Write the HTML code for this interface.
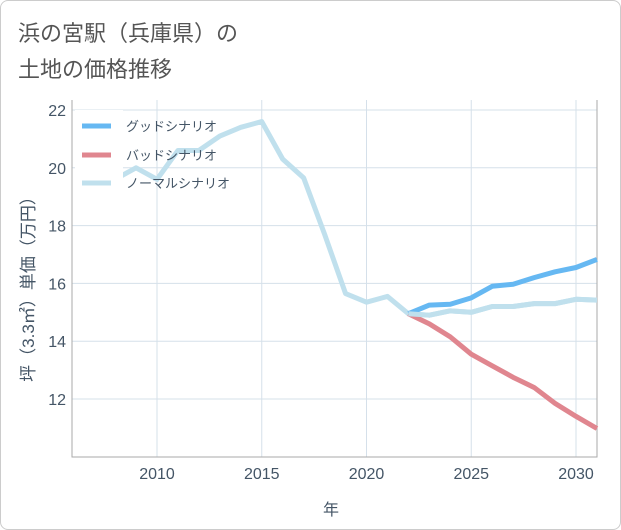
<!DOCTYPE html>
<html><head><meta charset="utf-8"><style>
body{margin:0;background:#fff;font-family:"Liberation Sans","Noto Sans CJK JP",sans-serif}
#card{position:absolute;left:0;top:0;width:619px;height:528px;border:1px solid #ccc;border-radius:8px;background:#fff}
</style></head><body>
<div id="card"></div>
<svg id="c" width="621" height="530" style="position:absolute;left:0;top:0" font-family="Liberation Sans, Noto Sans CJK JP, sans-serif">
<text x="18" y="41" font-size="22" fill="#555">浜の宮駅（兵庫県）の</text>
<text x="18" y="77" font-size="22" fill="#555">土地の価格推移</text>
<g id="grid"></g><g id="lines"></g>
<text x="331" y="515" font-size="16" fill="#456" text-anchor="middle">年</text>
<text transform="translate(34,285) rotate(-90)" font-size="17" fill="#456" text-anchor="middle">坪（3.3㎡）単価（万円）</text>
<g id="legend"></g>
</svg>
<script>
const years=[2008,2009,2010,2011,2012,2013,2014,2015,2016,2017,2018,2019,2020,2021,2022,2023,2024,2025,2026,2027,2028,2029,2030,2031];
const normal=[19.6,20.0,19.6,20.6,20.6,21.1,21.4,21.6,20.3,19.65,17.7,15.65,15.35,15.55,14.95,14.9,15.05,15.0,15.2,15.2,15.3,15.3,15.45,15.42];
const fyears=[2022,2023,2024,2025,2026,2027,2028,2029,2030,2031];
const good=[14.95,15.25,15.28,15.5,15.9,15.97,16.2,16.4,16.55,16.83];
const bad=[14.95,14.6,14.15,13.55,13.15,12.75,12.4,11.85,11.4,10.98];
const xticks=[2010,2015,2020,2025,2030];
const yticks=[12,14,16,18,20,22];
const L=72,R=597,T=100,B=457;
const x=y=>157+(y-2010)*20.95;
const yy=v=>110+(22-v)*28.9;
const NS="http://www.w3.org/2000/svg";
function mk(t,a,p){const e=document.createElementNS(NS,t);for(const k in a)e.setAttribute(k,a[k]);p.appendChild(e);return e;}
const g=document.getElementById('grid');
xticks.forEach(t=>{
 const l=mk('line',{x1:x(t),x2:x(t),y1:T,y2:B,stroke:'#d5e0ea','stroke-width':1},g);
 
 
 const tx=mk('text',{x:x(t),y:479,'font-size':16,fill:'#456','text-anchor':'middle'},g);tx.textContent=t;
 
 
});
yticks.forEach(t=>{
 const l=mk('line',{x1:L,x2:R,y1:yy(t),y2:yy(t),stroke:'#d5e0ea','stroke-width':1},g);
 
 
 const tx=mk('text',{x:66,y:yy(t)+6,'font-size':16,fill:'#456','text-anchor':'end'},g);tx.textContent=t;
 
 
});
const ax=mk('path',{d:`M${L},${T} V${B} H${R} V${T}`,fill:'none',stroke:'#aaa','stroke-width':1},g);


const lg=document.getElementById('lines');
function series(xs,vs,c,n){const p=mk('path',{d:vs.map((v,i)=>(i?'L':'M')+x(xs[i])+','+yy(v)).join(' '),fill:'none',stroke:c,'stroke-width':5,'stroke-linejoin':'round'},lg);
 
 }
series(years,normal,'#c0e0ed','normal-scenario-line');
series(fyears,bad,'#e0868f','bad-scenario-line');
series(fyears,good,'#66b8f2','good-scenario-line');
series(fyears,normal.slice(14),'#c0e0ed','normal-scenario-forecast');
const le=document.getElementById('legend');
const bg=mk('rect',{x:75,y:110,width:48,height:90,fill:'#fff'},le);


[['グッドシナリオ','#66b8f2',126],['バッドシナリオ','#e0868f',155],['ノーマルシナリオ','#c0e0ed',183]].forEach(([t,c,y])=>{
 const l=mk('line',{x1:82,x2:111,y1:y,y2:y,stroke:c,'stroke-width':5},le);
 
 
 const tx=mk('text',{x:126,y:y+5,'font-size':13,fill:'#456'},le);tx.textContent=t;
 
 
});
</script>
</body></html>
